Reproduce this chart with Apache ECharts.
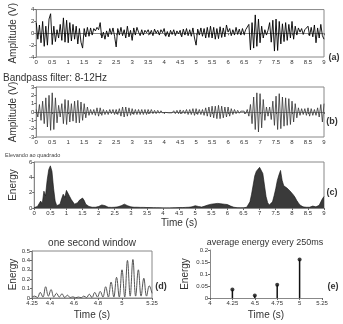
<!DOCTYPE html>
<html>
<head>
<meta charset="utf-8">
<script src="https://cdn.jsdelivr.net/npm/echarts@6/dist/echarts.min.js"></script>
<style>html,body{margin:0;padding:0;background:#fff}#c{width:343px;height:324px}</style>
</head>
<body>
<div id="c"></div>
<script>
// ---- data ----
const sampleStep = 0.05; // seconds between samples in panels a-c
const rawAmplitude = [
  1.8,-1.0,1.4,-1.6,2.0,-2.2,1.2,-2.0,2.4,3.3,
  -1.9,1.2,-1.4,0.6,-0.8,1.5,-1.2,2.6,-1.5,2.2,
  -1.6,1.8,-1.3,1.5,-1.0,1.2,-1.8,0.8,-1.5,-2.5,
  0.8,-0.6,1.0,-0.5,0.9,-0.3,0.8,0.4,1.0,0.6,
  1.8,-0.8,0.2,-1.0,0.4,-0.6,0.8,-0.2,0.9,-0.5,
  -2.3,0.8,-0.3,1.0,-0.4,0.6,-0.8,1.2,-0.6,0.5,
  -1.2,0.9,-0.3,1.0,0.2,-0.4,0.6,-0.3,0.5,0.1,
  0.6,-0.2,0.5,-0.4,0.7,0.0,0.5,-0.3,0.6,0.1,
  0.8,-0.5,0.3,-0.6,0.5,-0.2,0.6,-0.4,0.4,-0.1,
  0.5,-0.6,0.7,-0.3,0.8,-0.4,0.6,-0.5,0.9,-0.8,
  -2.0,0.7,-0.3,0.9,-0.5,0.8,-0.8,1.0,-0.7,1.2,
  -0.8,1.0,-1.0,0.8,-0.9,1.1,-0.7,0.9,-0.6,1.4,
  0.2,0.8,-0.4,0.6,-0.3,1.0,-0.2,0.7,-0.3,0.8,
  -0.2,0.6,0.3,1.5,-2.8,1.8,-2.5,3.1,-2.2,2.4,
  -1.6,1.2,-0.8,0.6,-0.3,0.5,1.8,-1.5,2.2,-3.0,
  2.4,-2.9,2.0,-1.8,1.6,-1.4,1.8,-1.2,1.5,-0.8,
  2.0,-1.0,1.2,-0.3,0.9,0.2,0.8,-0.2,0.6,0.3,
  1.2,-0.4,1.0,-0.6,1.4,-1.6,0.9,-0.8,1.5,-0.4,
  -1.0
];
const bandpass = [
  0.3,-0.6,0.9,-1.0,1.3,-1.4,1.7,-1.8,2.0,-2.2,
  2.3,-2.1,1.7,-1.3,0.8,-0.6,1.0,-1.4,1.5,-1.5,
  1.4,-1.2,1.0,-1.1,1.3,-1.3,1.4,-1.3,1.2,-1.0,
  1.0,-0.7,0.6,-0.4,0.3,-0.3,0.3,-0.4,0.5,-0.5,
  0.5,-0.4,0.3,-0.3,0.2,-0.3,0.3,-0.2,0.3,-0.3,
  0.3,-0.3,0.4,-0.5,0.6,-0.6,0.6,-0.5,0.5,-0.4,
  0.4,-0.3,0.3,-0.3,0.3,-0.3,0.3,-0.3,0.3,-0.3,
  0.3,-0.2,0.3,-0.2,0.2,-0.2,0.2,-0.15,0.15,-0.1,
  0.1,-0.05,0.1,-0.1,0.1,-0.1,0.15,-0.2,0.2,-0.2,
  0.25,-0.2,0.2,-0.2,0.3,-0.3,0.3,-0.3,0.4,-0.4,
  0.4,-0.3,0.3,-0.3,0.3,-0.4,0.5,-0.5,0.6,-0.6,
  0.7,-0.7,0.7,-0.8,0.8,-0.8,0.7,-0.7,0.6,-0.6,
  0.6,-0.5,0.4,-0.3,0.3,-0.2,0.2,-0.15,0.1,-0.1,
  0.1,-0.2,0.3,-0.5,0.9,-1.4,1.8,-2.1,2.3,-2.4,
  2.2,-1.9,1.5,-1.0,0.6,-0.5,0.6,-0.9,1.3,-1.6,
  1.9,-2.1,2.2,-2.0,1.8,-1.7,1.7,-1.6,1.6,-1.5,
  1.3,-1.2,1.0,-0.7,0.5,-0.4,0.4,-0.3,0.4,-0.4,
  0.5,-0.5,0.4,-0.4,0.3,-0.4,0.5,-0.6,0.9,-1.2,
  1.0
];
const energy = [
  0.05,0.1,0.2,0.15,0.9,0.6,2.2,1.6,3.6,5.0,
  5.5,4.8,2.6,0.9,0.3,0.2,0.5,1.2,1.8,1.4,
  2.3,2.1,1.5,1.1,0.8,0.5,0.5,0.7,1.0,0.8,
  1.3,1.0,0.5,0.3,0.2,0.1,0.1,0.05,0.1,0.1,
  0.2,0.3,0.4,0.3,0.3,0.15,0.1,0.05,0.08,0.05,
  0.1,0.08,0.15,0.2,0.3,0.35,0.5,0.4,0.3,0.2,
  0.15,0.1,0.1,0.08,0.1,0.08,0.08,0.06,0.08,0.06,
  0.06,0.05,0.05,0.04,0.04,0.03,0.03,0.02,0.02,0.02,
  0.01,0.01,0.01,0.01,0.01,0.01,0.02,0.03,0.04,0.04,
  0.05,0.05,0.05,0.06,0.08,0.08,0.1,0.1,0.15,0.2,
  0.3,0.25,0.2,0.15,0.12,0.15,0.25,0.3,0.4,0.45,
  0.5,0.55,0.55,0.6,0.6,0.6,0.55,0.55,0.5,0.5,
  0.45,0.35,0.25,0.15,0.1,0.06,0.04,0.03,0.02,0.02,
  0.02,0.03,0.1,0.3,0.8,1.8,3.0,4.2,4.8,5.0,
  5.3,5.5,4.5,3.0,1.5,0.7,0.4,0.4,0.8,1.6,
  2.5,3.6,4.3,4.9,3.6,2.9,2.8,2.6,2.4,2.2,
  2.0,1.7,1.4,1.0,0.7,0.4,0.2,0.15,0.1,0.1,
  0.1,0.1,0.2,0.25,0.2,0.15,0.2,0.35,0.6,1.2,
  1.5
];
const windowStart = 4.25, windowStep = 1/44;
const windowEnergy = [
  0.01,0.02,0.005,0.06,0.01,0.12,0.02,0.09,0.01,0.05,
  0.01,0.045,0.005,0.03,0.005,0.012,0.003,0.01,0.003,0.02,
  0.005,0.04,0.005,0.06,0.01,0.07,0.01,0.12,0.01,0.17,
  0.01,0.22,0.01,0.30,0.01,0.40,0.02,0.41,0.02,0.30,
  0.02,0.21,0.02,0.13,0.05
];
const avgTimes = [4.25, 4.5, 4.75, 5.0];
const avgEnergy = [0.035, 0.01, 0.055, 0.16];
const fullTicks = 0.5;
const windowTickValues = [4.25, 4.4, 4.6, 4.8, 5, 5.25];

// ---- build ----
const F = 'Liberation Sans, Arial, sans-serif';
const toPairs = (arr, t0, dt) => arr.map((v, i) => [t0 + i * dt, v]);
const lbl = {fontSize: 6, color: '#333', margin: 2, fontFamily: F};
const tick = {length: 2, lineStyle: {color: '#666'}};
const axLine = {lineStyle: {color: '#888', width: 1}};
const nameStyle = (s) => ({fontSize: s, color: '#333', fontFamily: F});

function xFull(gi, name) {
  return {gridIndex: gi, type: 'value', min: 0, max: 9, interval: fullTicks,
    axisLabel: lbl, axisTick: tick, axisLine: axLine, splitLine: {show: false},
    name: name || '', nameLocation: 'middle', nameGap: 10, nameTextStyle: nameStyle(10)};
}
function yAx(gi, min, max, iv, name, gap, fs) {
  return {gridIndex: gi, type: 'value', min: min, max: max, interval: iv,
    axisLabel: lbl, axisTick: tick, axisLine: {show: true, lineStyle: {color: '#888'}}, splitLine: {show: false},
    name: name, nameLocation: 'middle', nameGap: gap, nameTextStyle: nameStyle(fs)};
}
const gridBox = {show: true, borderColor: '#888', borderWidth: 1, backgroundColor: 'transparent', containLabel: false};

const option = {
  animation: false,
  textStyle: {fontFamily: F},
  grid: [
    Object.assign({left: 31, top: 8, width: 293, height: 49}, gridBox),
    Object.assign({left: 31, top: 87, width: 293, height: 50}, gridBox),
    Object.assign({left: 31, top: 162, width: 293, height: 46}, gridBox),
    Object.assign({left: 32, top: 251, width: 120, height: 47}, gridBox),
    {left: 210, top: 250, width: 112, height: 48, show: false}
  ],
  xAxis: [
    xFull(0), xFull(1), xFull(2, 'Time (s)'),
    {gridIndex: 3, type: 'value', min: 4.25, max: 5.25,
      axisLabel: Object.assign({customValues: windowTickValues}, lbl),
      axisTick: Object.assign({customValues: windowTickValues}, tick),
      axisLine: axLine, splitLine: {show: false},
      name: 'Time (s)', nameLocation: 'middle', nameGap: 12, nameTextStyle: nameStyle(10)},
    {gridIndex: 4, type: 'value', min: 4, max: 5.25, interval: 0.25,
      axisLabel: lbl, axisTick: tick, axisLine: axLine, splitLine: {show: false},
      name: 'Time (s)', nameLocation: 'middle', nameGap: 12, nameTextStyle: nameStyle(10)}
  ],
  yAxis: [
    yAx(0, -4, 4, 2, 'Amplitude (V)', 14, 10),
    yAx(1, -3, 3, 1, 'Amplitude (V)', 14, 10),
    yAx(2, 0, 6, 2, 'Energy', 14, 10),
    yAx(3, 0, 0.5, 0.1, 'Energy', 14, 10),
    yAx(4, 0, 0.2, 0.05, 'Energy', 20, 10)
  ],
  series: [
    {type: 'line', xAxisIndex: 0, yAxisIndex: 0, data: toPairs(rawAmplitude, 0, sampleStep),
      showSymbol: false, lineStyle: {color: '#000', width: 0.9}},
    {type: 'line', xAxisIndex: 1, yAxisIndex: 1, data: toPairs(bandpass, 0, sampleStep),
      showSymbol: false, lineStyle: {color: '#333', width: 0.8}},
    {type: 'line', xAxisIndex: 2, yAxisIndex: 2, data: toPairs(energy, 0, sampleStep),
      showSymbol: false, lineStyle: {color: '#111', width: 0.6}, areaStyle: {color: '#3a3a3a', opacity: 1}},
    {type: 'line', xAxisIndex: 3, yAxisIndex: 3, data: toPairs(windowEnergy, windowStart, windowStep),
      showSymbol: false, smooth: 0.4, lineStyle: {color: '#555', width: 1}},
    {type: 'bar', xAxisIndex: 4, yAxisIndex: 4, data: avgTimes.map((t, i) => [t, avgEnergy[i]]),
      barWidth: 1.5, itemStyle: {color: '#111'}},
    {type: 'scatter', xAxisIndex: 4, yAxisIndex: 4, data: avgTimes.map((t, i) => [t, avgEnergy[i]]),
      symbol: 'circle', symbolSize: 4, itemStyle: {color: '#111'}}
  ],
  graphic: [
    {type: 'text', x: 3, y: 78, style: {text: 'Bandpass filter: 8-12Hz', font: '10px ' + F, fill: '#333', textVerticalAlign: 'middle'}},
    {type: 'text', x: 5, y: 155, style: {text: 'Elevando ao quadrado', font: '5.5px ' + F, fill: '#444', textVerticalAlign: 'middle'}},
    {type: 'text', x: 92, y: 243, style: {text: 'one second window', font: '10px ' + F, fill: '#333', textAlign: 'center', textVerticalAlign: 'middle'}},
    {type: 'text', x: 265, y: 243, style: {text: 'average energy every 250ms', font: '9px ' + F, fill: '#333', textAlign: 'center', textVerticalAlign: 'middle'}},
    {type: 'text', x: 334, y: 58, style: {text: '(a)', font: 'bold 9px ' + F, fill: '#333', textAlign: 'center', textVerticalAlign: 'middle'}},
    {type: 'text', x: 332, y: 122, style: {text: '(b)', font: 'bold 9px ' + F, fill: '#333', textAlign: 'center', textVerticalAlign: 'middle'}},
    {type: 'text', x: 332, y: 193, style: {text: '(c)', font: 'bold 9px ' + F, fill: '#333', textAlign: 'center', textVerticalAlign: 'middle'}},
    {type: 'text', x: 161, y: 287, style: {text: '(d)', font: 'bold 9px ' + F, fill: '#333', textAlign: 'center', textVerticalAlign: 'middle'}},
    {type: 'text', x: 333, y: 287, style: {text: '(e)', font: 'bold 9px ' + F, fill: '#333', textAlign: 'center', textVerticalAlign: 'middle'}}
  ]
};
const chart = echarts.init(document.getElementById('c'), null, {renderer: 'canvas'});
chart.setOption(option);
</script>
</body>
</html>
